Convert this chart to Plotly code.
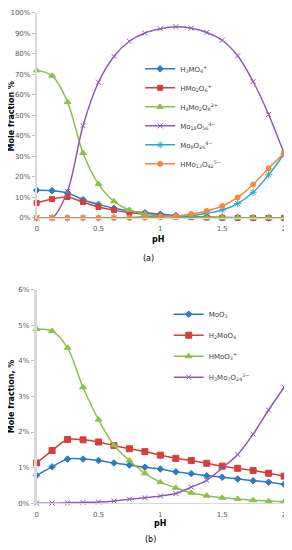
import plotly.graph_objects as go

# The page body has an 8px default margin, so the figure is drawn 8px in from the corner.
OFF = 8
W, H = 292 - OFF, 550 - OFF

ph = [0, 0.125, 0.25, 0.375, 0.5, 0.625, 0.75, 0.875, 1.0, 1.125, 1.25, 1.375, 1.5, 1.625, 1.75, 1.875, 2.0]

# Panel (a) mole fractions, %
a_names = ["H<sub>3</sub>MO<sub>4</sub><sup>+</sup>",
           "HMo<sub>2</sub>O<sub>6</sub><sup>+</sup>",
           "H<sub>4</sub>Mo<sub>2</sub>O<sub>8</sub><sup>2+</sup>",
           "Mo<sub>18</sub>O<sub>56</sub><sup>4−</sup>",
           "Mo<sub>8</sub>O<sub>26</sub><sup>4−</sup>",
           "HMo<sub>13</sub>O<sub>42</sub><sup>5−</sup>"]
a_h3mo4 = [13.5, 13.3, 12.2, 8.9, 6.6, 4.7, 3.4, 2.5, 1.8, 1.2, 0.7, 0.4, 0.2, 0.1, 0.05, 0.02, 0.0]
a_hmo2o6 = [7.3, 9.2, 10.2, 7.7, 5.3, 3.8, 2.6, 1.8, 1.2, 0.7, 0.4, 0.2, 0.1, 0.05, 0.02, 0.0, 0.0]
a_h4mo2o8 = [72.0, 69.4, 56.5, 31.7, 16.5, 8.1, 3.9, 1.9, 1.0, 0.5, 0.3, 0.2, 0.1, 0.05, 0.02, 0.0, 0.0]
a_mo18o56 = [0.0, 0.0, 13.0, 45.0, 66.2, 78.8, 86.2, 90.2, 92.3, 93.3, 92.6, 90.5, 86.7, 79.1, 66.5, 50.5, 31.5]
a_mo8o26 = [0.0, 0.0, 0.0, 0.0, 0.0, 0.1, 0.2, 0.5, 0.8, 0.6, 1.0, 2.3, 3.9, 7.0, 12.5, 21.0, 31.2]
a_hmo13o42 = [0.0, 0.0, 0.0, 0.0, 0.0, 0.0, 0.0, 0.1, 0.3, 0.8, 1.9, 3.4, 5.8, 10.0, 16.3, 24.2, 31.5]

# Panel (b) mole fractions, %
b_names = ["MoO<sub>3</sub>",
           "H<sub>2</sub>MoO<sub>4</sub>",
           "HMoO<sub>3</sub><sup>+</sup>",
           "H<sub>3</sub>Mo<sub>7</sub>O<sub>24</sub><sup>3−</sup>"]
b_moo3 = [0.78, 1.02, 1.24, 1.24, 1.20, 1.13, 1.07, 1.01, 0.96, 0.88, 0.83, 0.77, 0.73, 0.68, 0.63, 0.59, 0.53]
b_h2moo4 = [1.13, 1.48, 1.79, 1.78, 1.72, 1.62, 1.53, 1.45, 1.35, 1.26, 1.20, 1.12, 1.04, 0.98, 0.92, 0.84, 0.76]
b_hmoo3 = [4.90, 4.84, 4.37, 3.26, 2.35, 1.63, 1.20, 0.84, 0.59, 0.43, 0.29, 0.21, 0.15, 0.12, 0.08, 0.06, 0.04]
b_h3mo7o24 = [0.0, 0.0, 0.01, 0.02, 0.03, 0.06, 0.11, 0.15, 0.20, 0.27, 0.45, 0.64, 0.99, 1.37, 1.94, 2.62, 3.26]

a_ticks = list(range(0, 101, 10))
b_ticks = list(range(0, 7))
x_ticks = [0, 0.5, 1, 1.5, 2]
x_labels = ["0", "0.5", "1", "1.5", "2"]

BLUE, RED, GREEN, PURPLE, CYAN, ORANGE = "#2C7BC0", "#D43F3A", "#8DC04A", "#8B5CB5", "#2AAAC9", "#F5883A"

a_styles = [(BLUE, "diamond", 5), (RED, "square", 5), (GREEN, "triangle-up", 6),
            (PURPLE, "x-thin-open", 5), (CYAN, "asterisk-open", 6), (ORANGE, "circle", 5)]
b_styles = [(BLUE, "diamond", 5), (RED, "square", 6), (GREEN, "triangle-up", 6),
            (PURPLE, "x-thin-open", 5)]

fig = go.Figure()

for i, (nm, ys, st) in enumerate(zip(a_names, [a_h3mo4, a_hmo2o6, a_h4mo2o8, a_mo18o56, a_mo8o26, a_hmo13o42], a_styles)):
    c, sym, sz = st
    fig.add_trace(go.Scatter(x=ph, y=ys, name=nm, mode="lines+markers",
                             line=dict(color=c, width=1.5, shape="spline", smoothing=0.9),
                             marker=dict(color=c, symbol=sym, size=sz, line=dict(color=c, width=1)),
                             xaxis="x", yaxis="y", legend="legend", legendgroup="a%d" % i,
                             cliponaxis=False))

for i, (nm, ys, st) in enumerate(zip(b_names, [b_moo3, b_h2moo4, b_hmoo3, b_h3mo7o24], b_styles)):
    c, sym, sz = st
    fig.add_trace(go.Scatter(x=ph, y=ys, name=nm, mode="lines+markers",
                             line=dict(color=c, width=1.5, shape="spline", smoothing=0.9),
                             marker=dict(color=c, symbol=sym, size=sz, line=dict(color=c, width=1)),
                             xaxis="x2", yaxis="y2", legend="legend2", legendgroup="b%d" % i,
                             cliponaxis=False))


def px_x(p):
    return min(max((p - OFF) / W, 0), 1)


def px_y(p):
    return min(max(1 - (p - OFF) / H, 0), 1)


tickfont = dict(family="DejaVu Sans", size=7, color="#595959")
xdom = [px_x(35), px_x(286)]

xcommon = dict(range=[0, 2], tickvals=x_ticks, ticktext=x_labels, showgrid=False, zeroline=False,
               showline=True, linecolor="#D9D9D9", linewidth=1, ticks="outside", ticklen=4,
               tickcolor="rgba(0,0,0,0)", tickfont=tickfont, domain=xdom, fixedrange=True)

fig.update_layout(
    width=W, height=H, margin=dict(l=0, r=0, t=0, b=0),
    paper_bgcolor="white", plot_bgcolor="white",
    font=dict(family="DejaVu Sans", color="#404040"),
    xaxis=dict(anchor="y", **xcommon),
    yaxis=dict(domain=[px_y(217), px_y(9)], range=[0, 100], tickvals=a_ticks,
               ticktext=["%d%%" % t for t in a_ticks], showgrid=False, zeroline=False,
               showline=True, linecolor="#D9D9D9", linewidth=1.5, ticks="outside", ticklen=3,
               tickcolor="#BFBFBF", tickfont=tickfont, anchor="x", fixedrange=True),
    xaxis2=dict(anchor="y2", **xcommon),
    yaxis2=dict(domain=[px_y(506.5), px_y(290)], range=[0, 6], tickvals=b_ticks,
                ticktext=["%d%%" % t for t in b_ticks], showgrid=False, zeroline=False,
                showline=True, linecolor="#D9D9D9", linewidth=2.5, ticks="outside", ticklen=3,
                tickcolor="#BFBFBF", tickfont=tickfont, anchor="x2", fixedrange=True),
    legend=dict(x=px_x(140), y=px_y(51), xanchor="left", yanchor="top",
                font=dict(family="DejaVu Sans", size=7, color="#404040"),
                bgcolor="rgba(0,0,0,0)", tracegroupgap=0, traceorder="grouped"),
    legend2=dict(x=px_x(169), y=px_y(300), xanchor="left", yanchor="top",
                 font=dict(family="DejaVu Sans", size=7, color="#404040"),
                 bgcolor="rgba(0,0,0,0)", tracegroupgap=2, traceorder="grouped"),
    showlegend=True,
)

ann = [
    dict(text="<b>Mole fraction %</b>", x=px_x(9), y=px_y(113), textangle=-90),
    dict(text="<b>pH</b>", x=px_x(158), y=px_y(239)),
    dict(text="(a)", x=px_x(148), y=px_y(258)),
    dict(text="<b>Mole fraction, %</b>", x=px_x(9), y=px_y(398), textangle=-90),
    dict(text="<b>pH</b>", x=px_x(160), y=px_y(527)),
    dict(text="(b)", x=px_x(150), y=px_y(543)),
]
for a in ann:
    fig.add_annotation(xref="paper", yref="paper", showarrow=False, xanchor="center", yanchor="middle",
                       font=dict(family="DejaVu Sans", size=8, color="#000"), **a)

fig.write_html("out.html")
